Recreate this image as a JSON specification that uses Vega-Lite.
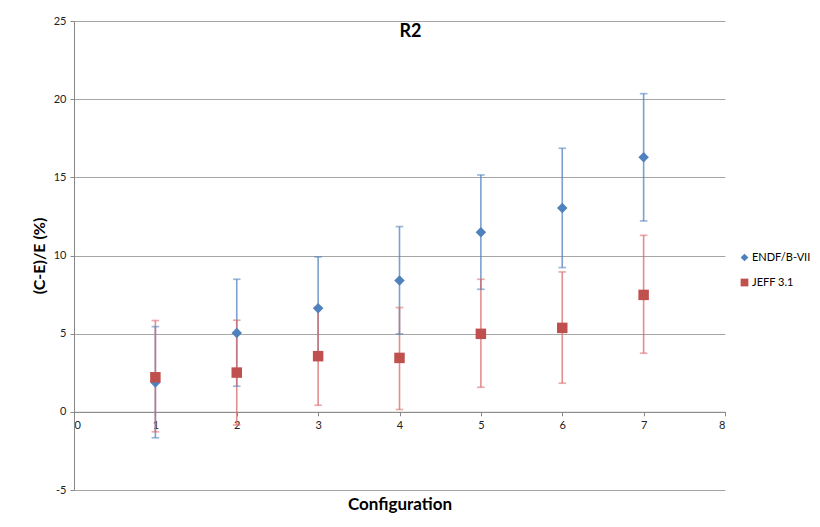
{
  "$schema": "https://vega.github.io/schema/vega-lite/v6.json",
  "width": 651,
  "height": 469,
  "autosize": {"type": "none"},
  "padding": {"left": 74, "top": 21, "right": 95, "bottom": 37},
  "background": "white",
  "config": {
    "font": "Lato",
    "view": {"stroke": null},
    "axis": {"labelFont": "Lato", "titleFont": "Lato", "labelColor": "#222", "titleColor": "#000", "labelFontSize": 11},
    "legend": {"labelFont": "Lato", "labelFontSize": 11, "labelColor": "#000"}
  },
  "title": {"text": "R2", "fontSize": 18, "fontWeight": "bold", "font": "Lato", "anchor": "middle", "dx": 11, "offset": -26, "color": "#000"},
  "data": {
    "values": [
      {"config": 1, "series": "ENDF/B-VII", "value": 1.87, "lo": -1.66, "hi": 5.45},
      {"config": 2, "series": "ENDF/B-VII", "value": 5.05, "lo": 1.64, "hi": 8.48},
      {"config": 3, "series": "ENDF/B-VII", "value": 6.62, "lo": 3.33, "hi": 9.91},
      {"config": 4, "series": "ENDF/B-VII", "value": 8.40, "lo": 4.99, "hi": 11.85},
      {"config": 5, "series": "ENDF/B-VII", "value": 11.48, "lo": 7.84, "hi": 15.15},
      {"config": 6, "series": "ENDF/B-VII", "value": 13.04, "lo": 9.23, "hi": 16.86},
      {"config": 7, "series": "ENDF/B-VII", "value": 16.28, "lo": 12.21, "hi": 20.35},
      {"config": 1, "series": "JEFF 3.1", "value": 2.21, "lo": -1.28, "hi": 5.84},
      {"config": 2, "series": "JEFF 3.1", "value": 2.51, "lo": -0.84, "hi": 5.86},
      {"config": 3, "series": "JEFF 3.1", "value": 3.56, "lo": 0.42, "hi": 6.70},
      {"config": 4, "series": "JEFF 3.1", "value": 3.45, "lo": 0.15, "hi": 6.67},
      {"config": 5, "series": "JEFF 3.1", "value": 4.99, "lo": 1.57, "hi": 8.48},
      {"config": 6, "series": "JEFF 3.1", "value": 5.37, "lo": 1.83, "hi": 8.95},
      {"config": 7, "series": "JEFF 3.1", "value": 7.48, "lo": 3.75, "hi": 11.29}
    ]
  },
  "encoding": {
    "x": {
      "field": "config", "type": "quantitative",
      "scale": {"domain": [0, 8], "nice": false, "zero": false},
      "axis": {
        "title": "Configuration", "titleFontSize": 17, "titleFontWeight": "bold",
        "values": [0, 1, 2, 3, 4, 5, 6, 7, 8], "format": "d",
        "offset": -78.2, "grid": false, "domainColor": "#888", "tickColor": "#888",
        "tickSize": 4, "labelPadding": 4, "titleY": 93, "titleBaseline": "middle"
      }
    }
  },
  "layer": [
    {
      "mark": {"type": "rule", "strokeWidth": 1.6, "strokeOpacity": 0.75},
      "encoding": {
        "y": {
          "field": "lo", "type": "quantitative",
          "scale": {"domain": [-5, 25], "nice": false, "zero": false},
          "axis": {
            "title": "(C-E)/E (%)", "titleFontSize": 16, "titleFontWeight": "bold",
            "values": [-5, 0, 5, 10, 15, 20, 25], "labelExpr": "'' + datum.value", "grid": true, "gridColor": "#a6a6a6",
            "domainColor": "#888", "tickColor": "#888", "tickSize": 4, "labelPadding": 4, "titlePadding": 6
          }
        },
        "y2": {"field": "hi"},
        "stroke": {"field": "series", "type": "nominal", "scale": {"range": ["#4F81BD", "#D9696B"]}, "legend": null}
      }
    },
    {
      "mark": {"type": "tick", "orient": "horizontal", "size": 6, "thickness": 0.1, "filled": false, "strokeWidth": 1.6, "strokeOpacity": 0.8},
      "encoding": {
        "y": {"field": "hi", "type": "quantitative"},
        "stroke": {"field": "series", "type": "nominal", "legend": null}
      }
    },
    {
      "mark": {"type": "tick", "orient": "horizontal", "size": 6, "thickness": 0.1, "filled": false, "strokeWidth": 1.6, "strokeOpacity": 0.8},
      "encoding": {
        "y": {"field": "lo", "type": "quantitative"},
        "stroke": {"field": "series", "type": "nominal", "legend": null}
      }
    },
    {
      "mark": {"type": "point", "filled": true, "opacity": 1, "size": 110},
      "encoding": {
        "y": {"field": "value", "type": "quantitative"},
        "color": {
          "field": "series", "type": "nominal",
          "scale": {"domain": ["ENDF/B-VII", "JEFF 3.1"], "range": ["#4F81BD", "#C0504D"]},
          "legend": {"title": null, "orient": "none", "legendX": 665, "legendY": 231, "padding": 0, "rowPadding": 13, "symbolSize": 60, "labelOffset": 2}
        },
        "shape": {
          "field": "series", "type": "nominal",
          "scale": {"domain": ["ENDF/B-VII", "JEFF 3.1"], "range": ["diamond", "square"]}
        }
      }
    }
  ]
}
